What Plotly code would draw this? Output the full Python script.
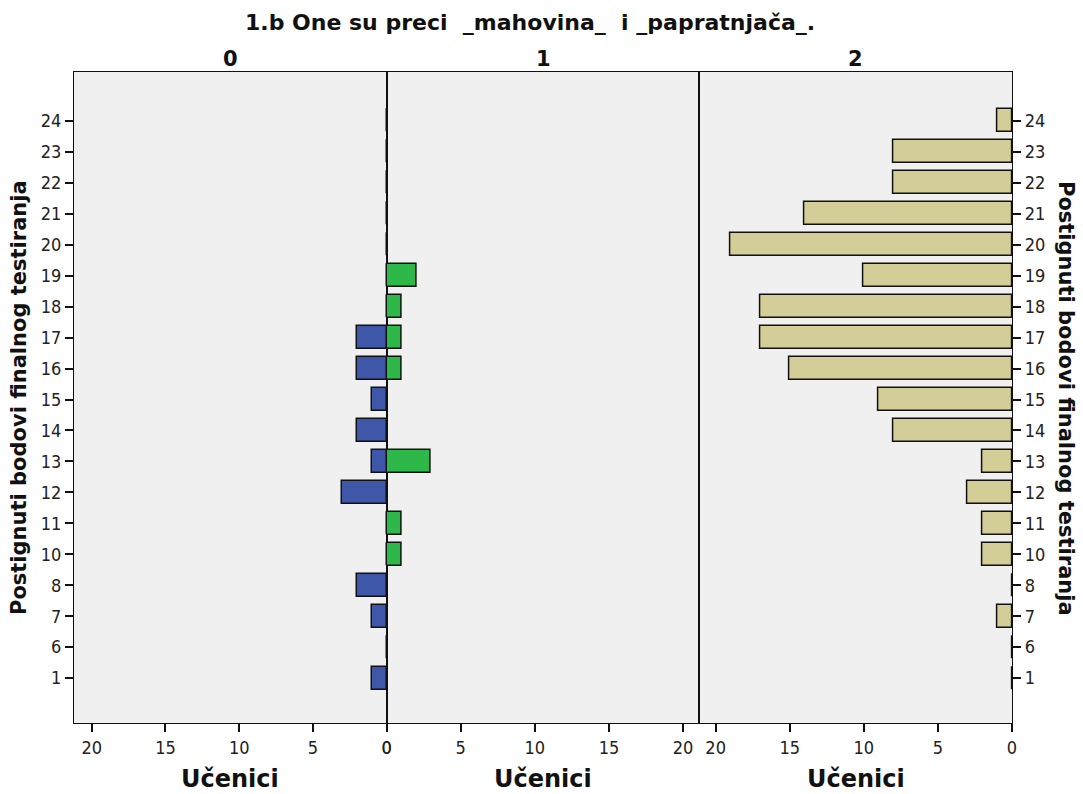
import plotly.graph_objects as go
from plotly.subplots import make_subplots

# score categories, bottom to top
scores = ["1", "6", "7", "8", "10", "11", "12", "13", "14", "15", "16",
          "17", "18", "19", "20", "21", "22", "23", "24"]

# number of students per score, per answer group
answer_0 = [1, 0, 1, 2, 0, 0, 3, 1, 2, 1, 2, 2, 0, 0, 0, 0, 0, 0, 0]
answer_1 = [0, 0, 0, 0, 1, 1, 0, 3, 0, 0, 1, 1, 1, 2, 0, 0, 0, 0, 0]
answer_2 = [0, 0, 1, 0, 2, 2, 3, 2, 8, 9, 15, 17, 17, 10, 19, 14, 8, 8, 1]

panel_names = ["0", "1", "2"]
colors = ["#3f57a8", "#2fb84a", "#d3ce97"]
x_ticks = [0, 5, 10, 15, 20]

title = "1.b One su preci\u00a0\u00a0_mahovina_\u00a0\u00a0i _papratnjača_."
y_title = "Postignuti bodovi finalnog testiranja"
x_title = "Učenici"

W, H = 1083, 794
L, R, T, B = 74, 1012, 72, 723

fig = make_subplots(rows=1, cols=3, horizontal_spacing=0, shared_yaxes=False)

for i, vals in enumerate([answer_0, answer_1, answer_2], start=1):
    fig.add_trace(
        go.Bar(
            x=vals,
            y=scores,
            orientation="h",
            width=0.74,
            marker=dict(color=colors[i - 1], line=dict(color="#111", width=1.5)),
            hovertemplate="%{y}: %{x}<extra></extra>",
        ),
        row=1,
        col=i,
    )

tick_font = dict(family="DejaVu Sans Condensed", size=18, color="#222")
axis_common = dict(
    showline=True,
    linecolor="#111",
    linewidth=1.2,
    mirror=True,
    showgrid=False,
    zeroline=False,
    ticklen=8,
    tickwidth=1.5,
    tickcolor="#111",
    tickfont=tick_font,
)

x_ranges = [[21.2, 0], [0, 21.1], [21.1, 0]]
for i in range(1, 4):
    fig.update_xaxes(
        range=x_ranges[i - 1],
        tickvals=x_ticks,
        ticktext=[str(v) for v in x_ticks],
        ticks="outside",
        **axis_common,
        row=1,
        col=i,
    )
    fig.update_yaxes(
        type="category",
        categoryorder="array",
        categoryarray=scores,
        range=[-1.45, 19.58],
        ticks="outside" if i != 2 else "",
        showticklabels=i != 2,
        **axis_common,
        row=1,
        col=i,
    )
fig.update_yaxes(side="right", row=1, col=3)

def bold(size):
    return dict(family="DejaVu Sans", size=size, color="#111", weight="bold")

annotations = [
    dict(text=title, x=(530 - L) / (R - L), xref="paper", y=(T - 22) / (B - T) + 1, yref="paper",
         showarrow=False, font=bold(22), xanchor="center", yanchor="middle"),
    dict(text=y_title, x=(19 - L) / (R - L), xref="paper", y=(B - 398) / (B - T), yref="paper",
         textangle=-90, showarrow=False, font=bold(21), xanchor="center", yanchor="middle"),
    dict(text=y_title, x=(1066 - L) / (R - L), xref="paper", y=(B - 398) / (B - T), yref="paper",
         textangle=90, showarrow=False, font=bold(21), xanchor="center", yanchor="middle"),
]
for i, name in enumerate(panel_names):
    cx = (i + 0.5) / 3
    annotations.append(dict(text=name, x=cx, xref="paper", y=(T - 59) / (B - T) + 1,
                            yref="paper", showarrow=False, font=bold(21),
                            xanchor="center", yanchor="middle"))
    annotations.append(dict(text=x_title, x=cx, xref="paper", y=(B - 779) / (B - T),
                            yref="paper", showarrow=False, font=bold(24),
                            xanchor="center", yanchor="middle"))

fig.update_layout(
    width=W,
    height=H,
    margin=dict(l=L, r=W - R, t=T, b=H - B),
    paper_bgcolor="white",
    plot_bgcolor="#f0f0f0",
    showlegend=False,
    bargap=0,
    annotations=annotations,
)

fig.write_html(
    "out.html",
    config={"displayModeBar": False},
    post_script="document.body.style.margin='0';",
)
